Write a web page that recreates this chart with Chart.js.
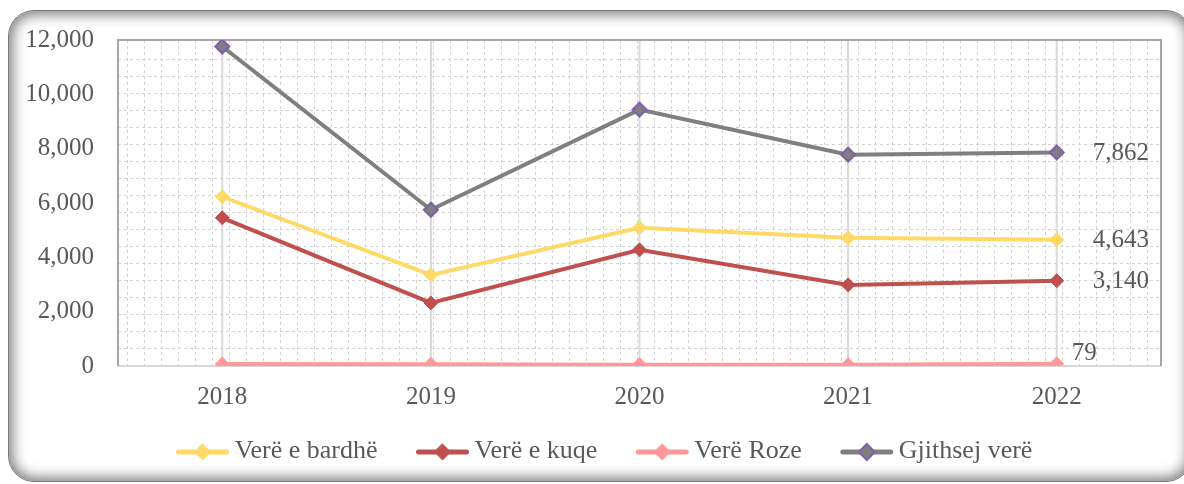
<!DOCTYPE html>
<html>
<head>
<meta charset="utf-8">
<script src="https://cdn.jsdelivr.net/npm/chart.js@4"></script>
<style>
  html, body { margin: 0; padding: 0; background: #fff; }
  #wrap { position: relative; width: 1184px; height: 484px; overflow: hidden; }
  #frame {
    position: absolute; left: 8px; top: 10px; width: 1184px; height: 472px;
    border-radius: 26px; background: #fff; box-sizing: border-box;
    border: 1px solid #7a7a7a;
    box-shadow: inset 0 0 14px 3px rgba(0, 0, 0, 0.55);
  }
  #chart { position: absolute; left: 0; top: 0; }
</style>
</head>
<body>
<div id="wrap">
  <div id="frame"></div>
  <canvas id="chart" width="1184" height="484"></canvas>
</div>
<script>
const years = ['2018', '2019', '2020', '2021', '2022'];
const white = [6230, 3355, 5088, 4719, 4643];
const red = [5456, 2323, 4276, 2986, 3140];
const rose = [70, 60, 50, 50, 79];
const total = [11760, 5751, 9438, 7779, 7862];
const yTicks = [0, 2000, 4000, 6000, 8000, 10000, 12000];

const FONT = '"Liberation Serif", "Times New Roman", serif';
const TEXT = '#595959';

function series(label, values, color, pointBorder) {
  return {
    label: label,
    data: values,
    borderColor: color,
    backgroundColor: color,
    borderWidth: 4,
    tension: 0,
    pointStyle: 'rectRot',
    pointRadius: 7,
    pointHoverRadius: 7,
    pointBackgroundColor: color,
    pointBorderColor: pointBorder || color,
    pointBorderWidth: pointBorder ? 2 : 1
  };
}

// dashed pattern fill of the plot area
const patternGrid = {
  id: 'patternGrid',
  beforeDatasetsDraw(chart) {
    const { ctx, chartArea: a } = chart;
    ctx.save();
    ctx.strokeStyle = '#d2d2d2';
    ctx.lineWidth = 1;
    ctx.setLineDash([3, 3]);
    ctx.beginPath();
    for (let x = a.left + 8.5; x < a.right - 1; x += 17) {
      ctx.moveTo(Math.round(x) + 0.5, a.top);
      ctx.lineTo(Math.round(x) + 0.5, a.bottom);
    }
    for (let y = a.top + 18.5; y < a.bottom - 2; y += 17) {
      ctx.moveTo(a.left, Math.round(y) + 0.5);
      ctx.lineTo(a.right, Math.round(y) + 0.5);
    }
    ctx.stroke();
    ctx.setLineDash([]);
    // category lines
    const xs = chart.scales.x;
    ctx.strokeStyle = '#d9d9d9';
    ctx.lineWidth = 2;
    ctx.beginPath();
    years.forEach((_, i) => {
      const x = xs.getPixelForTick(i);
      ctx.moveTo(x, a.top);
      ctx.lineTo(x, a.bottom);
    });
    ctx.stroke();
    // plot area border
    ctx.lineWidth = 2;
    ctx.strokeStyle = '#d6d6d6';
    ctx.beginPath();
    ctx.moveTo(a.left, a.bottom);
    ctx.lineTo(a.right, a.bottom);
    ctx.stroke();
    ctx.strokeStyle = '#a6a6a6';
    ctx.beginPath();
    ctx.moveTo(a.left, a.bottom);
    ctx.lineTo(a.left, a.top);
    ctx.lineTo(a.right, a.top);
    ctx.lineTo(a.right, a.bottom);
    ctx.stroke();
    ctx.restore();
  }
};

// value labels at the last point
const endLabels = {
  id: 'endLabels',
  afterDatasetsDraw(chart) {
    const { ctx } = chart;
    ctx.save();
    ctx.font = '25px ' + FONT;
    ctx.fillStyle = TEXT;
    ctx.textAlign = 'left';
    ctx.textBaseline = 'middle';
    chart.data.datasets.forEach((ds, i) => {
      const meta = chart.getDatasetMeta(i);
      const last = ds.data.length - 1;
      const pt = meta.data[last];
      const txt = ds.data[last].toLocaleString('en-US');
      if (ds.label === 'Verë Roze') {
        ctx.fillText(txt, pt.x + 15, pt.y - 10);
      } else {
        ctx.fillText(txt, pt.x + 36, pt.y + 1);
      }
    });
    ctx.restore();
  }
};

// legend: line with diamond, then text
const lineLegend = {
  id: 'lineLegend',
  afterDraw(chart) {
    const { ctx } = chart;
    const lineLen = 54, textGap = 5, itemGap = 38, cy = 452, cx = 604;
    ctx.save();
    ctx.font = '26px ' + FONT;
    const items = chart.data.datasets.map(ds => ({ ds, w: ctx.measureText(ds.label).width }));
    let width = items.reduce((s, it) => s + lineLen + textGap + it.w, 0) + itemGap * (items.length - 1);
    let x = cx - width / 2;
    items.forEach(({ ds, w }) => {
      ctx.strokeStyle = ds.borderColor;
      ctx.lineWidth = 5;
      ctx.lineCap = 'round';
      ctx.beginPath();
      ctx.moveTo(x + 3, cy);
      ctx.lineTo(x + lineLen - 3, cy);
      ctx.stroke();
      const mx = x + lineLen / 2;
      ctx.fillStyle = ds.pointBackgroundColor;
      ctx.strokeStyle = ds.pointBorderColor;
      ctx.lineWidth = ds.pointBorderWidth;
      ctx.beginPath();
      ctx.moveTo(mx, cy - 8);
      ctx.lineTo(mx + 8, cy);
      ctx.lineTo(mx, cy + 8);
      ctx.lineTo(mx - 8, cy);
      ctx.closePath();
      ctx.fill();
      ctx.stroke();
      ctx.fillStyle = TEXT;
      ctx.textAlign = 'left';
      ctx.textBaseline = 'middle';
      ctx.fillText(ds.label, x + lineLen + textGap, cy - 1);
      x += lineLen + textGap + w + itemGap;
    });
    ctx.restore();
  }
};

new Chart(document.getElementById('chart'), {
  type: 'line',
  data: {
    labels: years,
    datasets: [
      series('Verë e bardhë', white, '#FFD966'),
      series('Verë e kuqe', red, '#C0504D'),
      series('Verë Roze', rose, '#FF9999'),
      series('Gjithsej verë', total, '#7F7F7F', '#7F5FA8')
    ]
  },
  options: {
    responsive: false,
    devicePixelRatio: 1,
    animation: false,
    layout: { padding: { top: 40, right: 23, left: 0, bottom: 0 } },
    plugins: {
      legend: { display: false },
      tooltip: { enabled: false }
    },
    scales: {
      x: {
        offset: true,
        grid: { display: false, drawTicks: false },
        border: { display: false },
        ticks: { color: TEXT, font: { family: FONT, size: 25 }, padding: 16, maxRotation: 0 },
        afterFit(scale) { scale.height = 118; }
      },
      y: {
        min: 0,
        max: 12000,
        afterBuildTicks(scale) { scale.ticks = yTicks.map(v => ({ value: v })); },
        grid: { display: false, drawTicks: false },
        border: { display: false },
        ticks: {
          color: TEXT,
          font: { family: FONT, size: 25 },
          padding: 24,
          callback: v => v.toLocaleString('en-US')
        },
        afterFit(scale) { scale.width = 118; }
      }
    }
  },
  plugins: [patternGrid, endLabels, lineLegend]
});
</script>
</body>
</html>
